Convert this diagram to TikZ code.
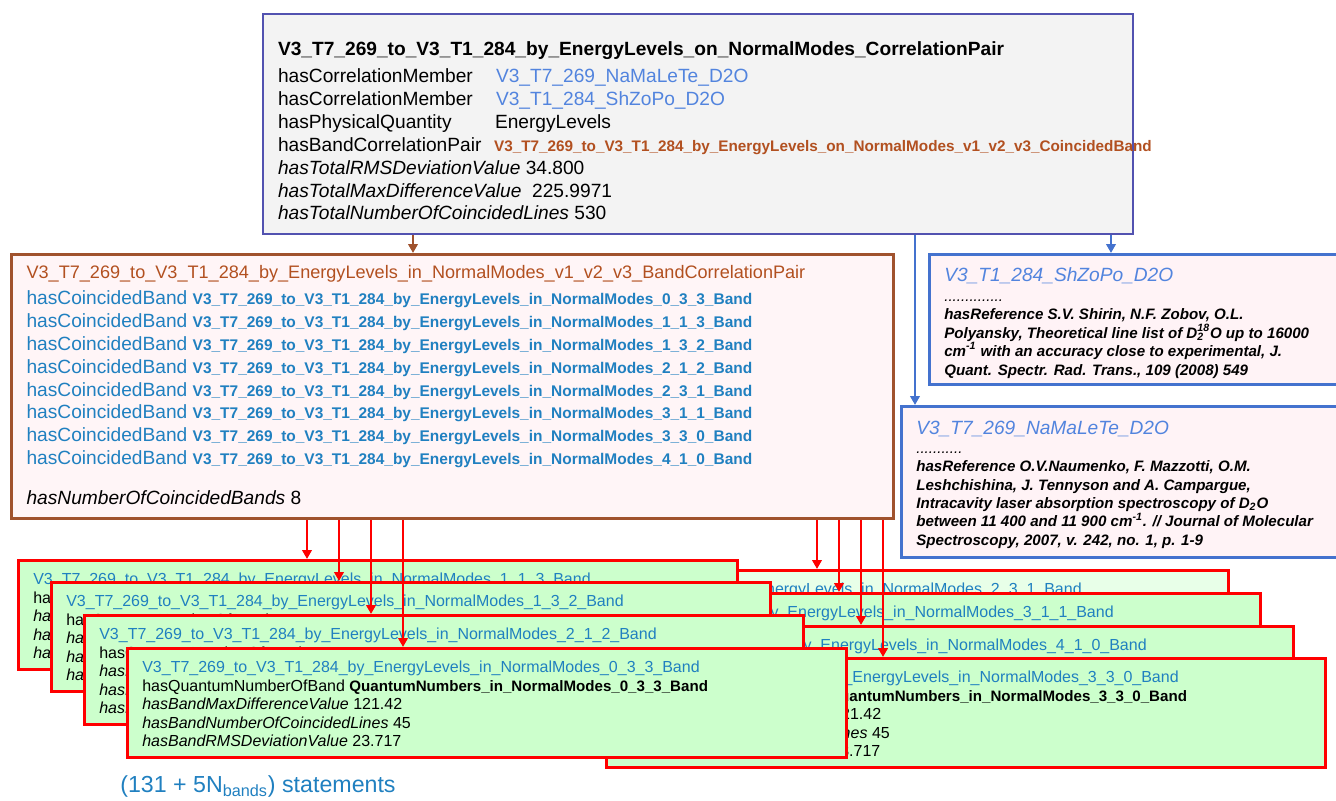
\documentclass[tikz,border=0pt]{standalone}
\usepackage{fontspec}
\setmainfont{Liberation Sans}
\usetikzlibrary{arrows.meta}

\definecolor{corrframe}{RGB}{82,82,176}
\definecolor{corrfill}{RGB}{243,243,243}
\definecolor{linkblue}{RGB}{82,132,222}
\definecolor{refframe}{RGB}{68,114,206}
\definecolor{reffill}{RGB}{255,243,246}
\definecolor{pairframe}{RGB}{160,82,45}
\definecolor{pairtext}{RGB}{178,80,32}
\definecolor{pairfill}{RGB}{255,245,247}
\definecolor{bandtext}{RGB}{32,128,192}
\definecolor{bandgreen}{RGB}{204,255,204}
\definecolor{bandfade}{RGB}{232,255,232}

\tikzstyle{corrbox} = [draw=corrframe, fill=corrfill, line width=1.2pt, anchor=north west, inner xsep=3mm, inner ysep=0pt]
\tikzstyle{pairbox} = [draw=pairframe, fill=pairfill, line width=1.8pt, anchor=north west, inner xsep=3mm, inner ysep=0pt]
\tikzstyle{refbox} = [draw=refframe, fill=reffill, line width=1.5pt, anchor=north west, inner xsep=3mm, inner ysep=0pt, font=\fontsize{8.6}{10.5}\selectfont\bfseries\itshape]
\tikzstyle{bandbox} = [draw=red, line width=1.5pt, anchor=north west, inner xsep=3mm, inner ysep=0pt, font=\fontsize{9.1}{10.4}\selectfont]
\tikzstyle{arrow} = [->, >={Triangle[length=1.8mm,width=1.9mm]}, line width=1.4pt]

% property name padded to the value column
\newcommand{\propcol}[1]{\makebox[43.2mm][l]{#1}}
\newcommand{\bandname}[1]{{\fontsize{8.8}{10}\selectfont\bfseries V3\_T7\_269\_to\_V3\_T1\_284\_by\_EnergyLevels\_in\_NormalModes\_#1\_Band}}

\begin{document}
\begin{tikzpicture}[x=0.2mm, y=-0.2mm, font=\fontsize{10.9}{13}\selectfont]
  \useasboundingbox (0,0) rectangle (1336,800);

  % correlation pair
  \node[corrbox] (cp) at (262,13) {\parbox[t][44mm][t]{168mm}{\vspace*{5.6mm}%
    \textbf{V3\_T7\_269\_to\_V3\_T1\_284\_by\_EnergyLevels\_on\_NormalModes\_CorrelationPair}\\[2.3pt]
    \propcol{hasCorrelationMember}\hspace{0.4mm}\textcolor{linkblue}{V3\_T7\_269\_NaMaLeTe\_D2O}\\
    \propcol{hasCorrelationMember}\hspace{0.4mm}\textcolor{linkblue}{V3\_T1\_284\_ShZoPo\_D2O}\\
    \propcol{hasPhysicalQuantity}\hspace{0.2mm}EnergyLevels\\
    \propcol{hasBandCorrelationPair}{\fontsize{8.7}{10}\selectfont\bfseries\color{pairtext}V3\_T7\_269\_to\_V3\_T1\_284\_by\_EnergyLevels\_on\_NormalModes\_v1\_v2\_v3\_CoincidedBand}\\
    \textit{hasTotalRMSDeviationValue} 34.800\\
    \textit{hasTotalMaxDifferenceValue}\ \ 225.9971\\
    \textit{hasTotalNumberOfCoincidedLines} 530}};

  % band correlation pair
  \node[pairbox] (bcp) at (10,253) {\parbox[t][52.8mm][t]{170.4mm}{\vspace*{2.2mm}%
    {\fontsize{10.3}{12}\selectfont\color{pairtext}V3\_T7\_269\_to\_V3\_T1\_284\_by\_EnergyLevels\_in\_NormalModes\_v1\_v2\_v3\_BandCorrelationPair}\\[1.8pt]
    \textcolor{bandtext}{hasCoincidedBand \bandname{0\_3\_3}}\\
    \textcolor{bandtext}{hasCoincidedBand \bandname{1\_1\_3}}\\
    \textcolor{bandtext}{hasCoincidedBand \bandname{1\_3\_2}}\\
    \textcolor{bandtext}{hasCoincidedBand \bandname{2\_1\_2}}\\
    \textcolor{bandtext}{hasCoincidedBand \bandname{2\_3\_1}}\\
    \textcolor{bandtext}{hasCoincidedBand \bandname{3\_1\_1}}\\
    \textcolor{bandtext}{hasCoincidedBand \bandname{3\_3\_0}}\\
    \textcolor{bandtext}{hasCoincidedBand \bandname{4\_1\_0}}\\[9.8pt]
    \textit{hasNumberOfCoincidedBands} 8}};

  % line lists
  \node[refbox] (sz) at (928,253) {\parbox[t][26mm][t]{78.4mm}{\vspace*{2.6mm}%
    {\fontsize{10.9}{13}\selectfont\mdseries\color{linkblue}V3\_T1\_284\_ShZoPo\_D2O}\\[0.9pt]
    {\mdseries ..............}\\
    hasReference S.V. Shirin, N.F. Zobov, O.L.\\
    Polyansky, Theoretical line list of D\rlap{\textsubscript{2}}\textsuperscript{18}O up to 16000\\
    cm\textsuperscript{-1} with an accuracy close to experimental, J.\\
    Quant. Spectr. Rad. Trans., 109 (2008) 549}};
  \node[refbox] (nm) at (900,405) {\parbox[t][30.2mm][t]{84mm}{\vspace*{3mm}%
    {\fontsize{10.9}{13}\selectfont\mdseries\color{linkblue}V3\_T7\_269\_NaMaLeTe\_D2O}\\
    {\mdseries ...........}\\
    hasReference O.V.Naumenko, F. Mazzotti, O.M.\\
    Leshchishina, J. Tennyson and A. Campargue,\\
    Intracavity laser absorption spectroscopy of D\textsubscript{2}O\\
    between 11 400 and 11 900 cm\textsuperscript{-1}. // Journal of Molecular\\
    Spectroscopy, 2007, v. 242, no. 1, p. 1-9}};

  \draw[arrow, draw=pairframe, fill=pairframe] (413,0 |- cp.south) -- (413,0 |- bcp.north);
  \draw[arrow, draw=refframe, fill=refframe] (1111,0 |- cp.south) -- (1111,0 |- sz.north);
  \draw[arrow, draw=refframe, fill=refframe] (915,0 |- cp.south) -- (915,0 |- nm.north);

  % coincided bands, back to front
  \foreach \nm/\px/\py/\md/\fl in {bE/508/569/2\_3\_1/bandfade, bF/540/592/3\_1\_1/bandgreen,
      bG/573/625/4\_1\_0/bandgreen, bH/605/657/3\_3\_0/bandgreen,
      bA/17/559/1\_1\_3/bandgreen, bB/50/581/1\_3\_2/bandgreen,
      bC/83/614/2\_1\_2/bandgreen, bD/126/647/0\_3\_3/bandgreen}
    \node[bandbox, fill=\fl] (\nm) at (\px,\py) {\parbox[t][21.8mm][t]{137.8mm}{\vspace*{2.6mm}%
      \textcolor{bandtext}{V3\_T7\_269\_to\_V3\_T1\_284\_by\_EnergyLevels\_in\_NormalModes\_\md\_Band}\\
      hasQuantumNumberOfBand {\fontsize{8.6}{10}\selectfont\bfseries QuantumNumbers\_in\_NormalModes\_\md\_Band}\\[0.2pt]
      \textit{hasBandMaxDifferenceValue} 121.42\\
      \textit{hasBandNumberOfCoincidedLines} 45\\
      \textit{hasBandRMSDeviationValue} 23.717}};

  \foreach \x/\b in {307/bA, 339/bB, 371/bC, 403/bD, 817/bE, 839/bF, 861/bG, 883/bH}
    \draw[arrow, draw=red, fill=red] (\x,0 |- bcp.south) -- (\x,0 |- \b.north);

  \node[anchor=base west, inner sep=0pt, text=bandtext, font=\fontsize{13.2}{15}\selectfont] (stmt) at (120,792)
    {(131 + 5N\textsubscript{bands}) statements};
\end{tikzpicture}
\end{document}
